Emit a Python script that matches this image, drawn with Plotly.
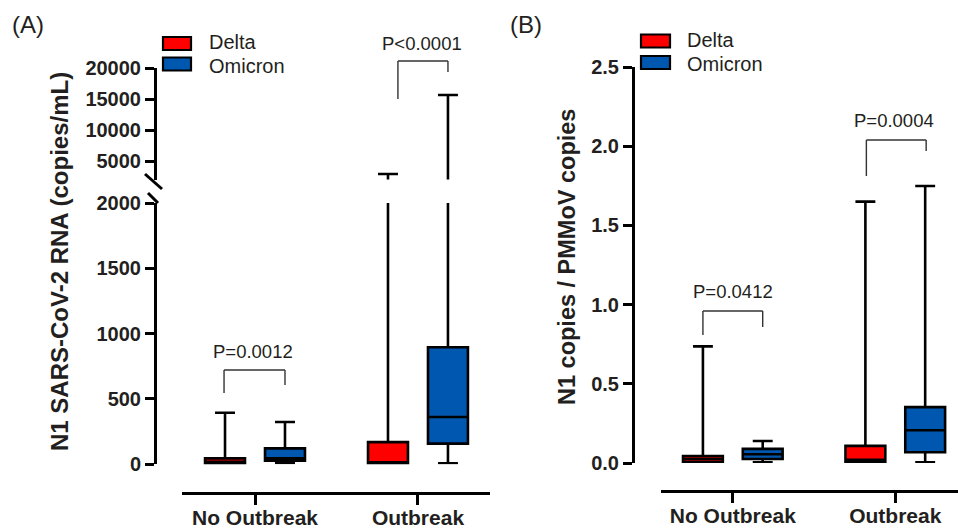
import plotly.graph_objects as go

# ---------------- data ----------------
categories = ["No Outbreak", "Outbreak"]

# Panel A: N1 SARS-CoV-2 RNA (copies/mL) -- box statistics per category
a_delta_min = [2, 3]
a_delta_q1 = [5, 5]
a_delta_median = [20, 15]
a_delta_q3 = [45, 170]
a_delta_max = [395, 2900]

a_omicron_min = [10, 8]
a_omicron_q1 = [28, 158]
a_omicron_median = [45, 362]
a_omicron_q3 = [122, 896]
a_omicron_max = [324, 15650]

# Panel B: N1 copies / PMMoV copies
b_delta_min = [0.003, 0.003]
b_delta_q1 = [0.006, 0.008]
b_delta_median = [0.025, 0.02]
b_delta_q3 = [0.044, 0.108]
b_delta_max = [0.736, 1.65]

b_omicron_min = [0.005, 0.005]
b_omicron_q1 = [0.025, 0.068]
b_omicron_median = [0.055, 0.207]
b_omicron_q3 = [0.089, 0.353]
b_omicron_max = [0.139, 1.749]

a_lower_ticks = [0, 500, 1000, 1500, 2000]
a_upper_ticks = [5000, 10000, 15000, 20000]
b_ticks = [0, 0.5, 1.0, 1.5, 2.0, 2.5]

a_pvalues = ["P=0.0012", "P<0.0001"]
b_pvalues = ["P=0.0412", "P=0.0004"]

# ---------------- style / layout ----------------
W, H = 958, 532
RED = "#FF0000"
BLUE = "#0057B0"
TXT = "#231F20"
FONT = "Arial, Liberation Sans, sans-serif"


def px_x(p):
    return p / W


def px_y(p):
    return 1 - p / H


# axis geometry
A_X_DOM = [px_x(182), px_x(490)]
A_X_RANGE = [-0.448, 1.442]
A_Y_LOW_DOM = [px_y(464.3), px_y(203)]
A_Y_LOW_RANGE = [0, 2000]
A_Y_UP_DOM = [px_y(179.6), px_y(68)]
A_Y_UP_RANGE = [2000, 20000]
A_YAXIS_POS = px_x(155)
A_XAXIS_POS = px_y(493)

B_X_DOM = [px_x(661), 1.0]
B_X_RANGE = [-0.442, 1.386]
B_Y_DOM = [px_y(463), px_y(67)]
B_Y_RANGE = [0, 2.5]
B_YAXIS_POS = px_x(633)
B_XAXIS_POS = px_y(491)


def to_paper(v, dom, rng):
    return dom[0] + (v - rng[0]) / (rng[1] - rng[0]) * (dom[1] - dom[0])


fig = go.Figure()


def add_box(name, color, q1, med, q3, lo, hi, xaxis, yaxis, agroup):
    fig.add_trace(go.Box(
        name=name, x=categories, q1=q1, median=med, q3=q3,
        lowerfence=lo, upperfence=hi,
        boxpoints=False, fillcolor=color,
        line=dict(color="black", width=2.6),
        whiskerwidth=0.5,
        xaxis=xaxis, yaxis=yaxis,
        offsetgroup=name, alignmentgroup=agroup,
        showlegend=False,
    ))


# Panel A (drawn on lower and upper segments of the broken axis)
for ya in ["y", "y2"]:
    add_box("Delta", RED, a_delta_q1, a_delta_median, a_delta_q3,
            a_delta_min, a_delta_max, "x", ya, "A")
    add_box("Omicron", BLUE, a_omicron_q1, a_omicron_median, a_omicron_q3,
            a_omicron_min, a_omicron_max, "x", ya, "A")

# Panel B
add_box("Delta", RED, b_delta_q1, b_delta_median, b_delta_q3,
        b_delta_min, b_delta_max, "x3", "y3", "B")
add_box("Omicron", BLUE, b_omicron_q1, b_omicron_median, b_omicron_q3,
        b_omicron_min, b_omicron_max, "x3", "y3", "B")

tickfont = dict(family=FONT, size=20, color=TXT, weight="bold")
xtickfont = dict(family=FONT, size=21, color=TXT, weight="bold")
axis_common = dict(showline=True, linecolor="black", linewidth=3,
                   ticks="outside", tickcolor="black", tickwidth=2.6,
                   showgrid=False, zeroline=False, fixedrange=True,
                   automargin=False)

fig.update_layout(
    width=W, height=H, autosize=False,
    margin=dict(l=0, r=0, t=0, b=0, pad=0, autoexpand=False),
    paper_bgcolor="white", plot_bgcolor="white",
    boxmode="group", boxgap=0.264, boxgroupgap=0.334,
    showlegend=False,
    xaxis=dict(domain=A_X_DOM, range=A_X_RANGE, type="category",
               categoryorder="array", categoryarray=categories,
               anchor="free", position=A_XAXIS_POS, ticklen=10,
               ticklabelstandoff=-5,
               tickfont=xtickfont, **axis_common),
    yaxis=dict(domain=A_Y_LOW_DOM, range=A_Y_LOW_RANGE, tickvals=a_lower_ticks,
               tickformat="d", anchor="free", position=A_YAXIS_POS, ticklen=9,
               tickfont=tickfont, **axis_common),
    yaxis2=dict(domain=A_Y_UP_DOM, range=A_Y_UP_RANGE, tickvals=a_upper_ticks,
                tickformat="d", anchor="free", position=A_YAXIS_POS, ticklen=9,
                tickfont=tickfont, **axis_common),
    xaxis3=dict(domain=B_X_DOM, range=B_X_RANGE, type="category",
                categoryorder="array", categoryarray=categories,
                anchor="free", position=B_XAXIS_POS, ticklen=10,
                ticklabelstandoff=-5,
                tickfont=xtickfont, **axis_common),
    yaxis3=dict(domain=B_Y_DOM, range=B_Y_RANGE, tickvals=b_ticks,
                tickformat=".1f", anchor="free", position=B_YAXIS_POS,
                ticklen=9, tickfont=tickfont, **axis_common),
)

shapes = []
annotations = []

# axis break marks for panel A
for (x0, y0, x1, y1) in [(145, 174, 162, 189), (148, 193, 158, 203)]:
    shapes.append(dict(type="line", xref="paper", yref="paper",
                       x0=px_x(x0), y0=px_y(y0), x1=px_x(x1), y1=px_y(y1),
                       line=dict(color="black", width=3)))


# significance brackets
def bracket(xref, xl, xr, top, left_bottom, right_bottom, text_y, text_x, text,
            dom, rng):
    yt = to_paper(top, dom, rng)
    yl = to_paper(left_bottom, dom, rng)
    yr = to_paper(right_bottom, dom, rng)
    ln = dict(color="#333333", width=1.4)
    shapes.append(dict(type="line", xref=xref, yref="paper", x0=xl, x1=xl, y0=yl, y1=yt, line=ln))
    shapes.append(dict(type="line", xref=xref, yref="paper", x0=xl, x1=xr, y0=yt, y1=yt, line=ln))
    shapes.append(dict(type="line", xref=xref, yref="paper", x0=xr, x1=xr, y0=yt, y1=yr, line=ln))
    annotations.append(dict(xref=xref, yref="paper", x=text_x,
                            y=to_paper(text_y, dom, rng), text=text,
                            showarrow=False, xanchor="center", yanchor="middle",
                            font=dict(family=FONT, size=18.5, color=TXT)))


bracket("x", -0.19, 0.184, 722, 546, 607, 860, -0.01, a_pvalues[0], A_Y_LOW_DOM, A_Y_LOW_RANGE)
bracket("x", 0.877, 1.184, 21130, 15000, 19355, 24030, 1.025, a_pvalues[1], A_Y_UP_DOM, A_Y_UP_RANGE)
bracket("x3", -0.184, 0.184, 0.96, 0.808, 0.859, 1.08, 0.0, b_pvalues[0], B_Y_DOM, B_Y_RANGE)
bracket("x3", 0.822, 1.19, 2.039, 1.812, 1.97, 2.165, 0.994, b_pvalues[1], B_Y_DOM, B_Y_RANGE)


# manual legends
def legend(x0, x1, rows, text_x):
    for (label, color, ya, yb, ty) in rows:
        shapes.append(dict(type="rect", xref="paper", yref="paper",
                           x0=px_x(x0), x1=px_x(x1), y0=px_y(yb), y1=px_y(ya),
                           fillcolor=color, line=dict(color="black", width=2.2)))
        annotations.append(dict(xref="paper", yref="paper", x=px_x(text_x),
                                y=px_y(ty), text=label, showarrow=False,
                                xanchor="left", yanchor="middle",
                                font=dict(family=FONT, size=20, color=TXT)))


legend(163, 191, [("Delta", RED, 37, 50, 42), ("Omicron", BLUE, 57.5, 70.5, 65.5)], 207)
legend(641, 670, [("Delta", RED, 34.5, 47.5, 40.5), ("Omicron", BLUE, 56, 69, 63.5)], 685)

# panel labels
annotations.append(dict(xref="paper", yref="paper", x=px_x(10), y=px_y(25), text="(A)",
                        showarrow=False, xanchor="left", yanchor="middle",
                        font=dict(family=FONT, size=24, color=TXT)))
annotations.append(dict(xref="paper", yref="paper", x=px_x(508), y=px_y(24), text="(B)",
                        showarrow=False, xanchor="left", yanchor="middle",
                        font=dict(family=FONT, size=24, color=TXT)))

# y-axis titles
annotations.append(dict(xref="paper", yref="paper", x=px_x(60), y=px_y(262),
                        text="N1 SARS-CoV-2 RNA (copies/mL)", textangle=-90,
                        showarrow=False, xanchor="center", yanchor="middle",
                        font=dict(family=FONT, size=24, color=TXT, weight="bold")))
annotations.append(dict(xref="paper", yref="paper", x=px_x(567), y=px_y(257),
                        text="N1 copies / PMMoV copies", textangle=-90,
                        showarrow=False, xanchor="center", yanchor="middle",
                        font=dict(family=FONT, size=23.5, color=TXT, weight="bold")))

fig.update_layout(shapes=shapes, annotations=annotations)
fig.write_html("out.html")
